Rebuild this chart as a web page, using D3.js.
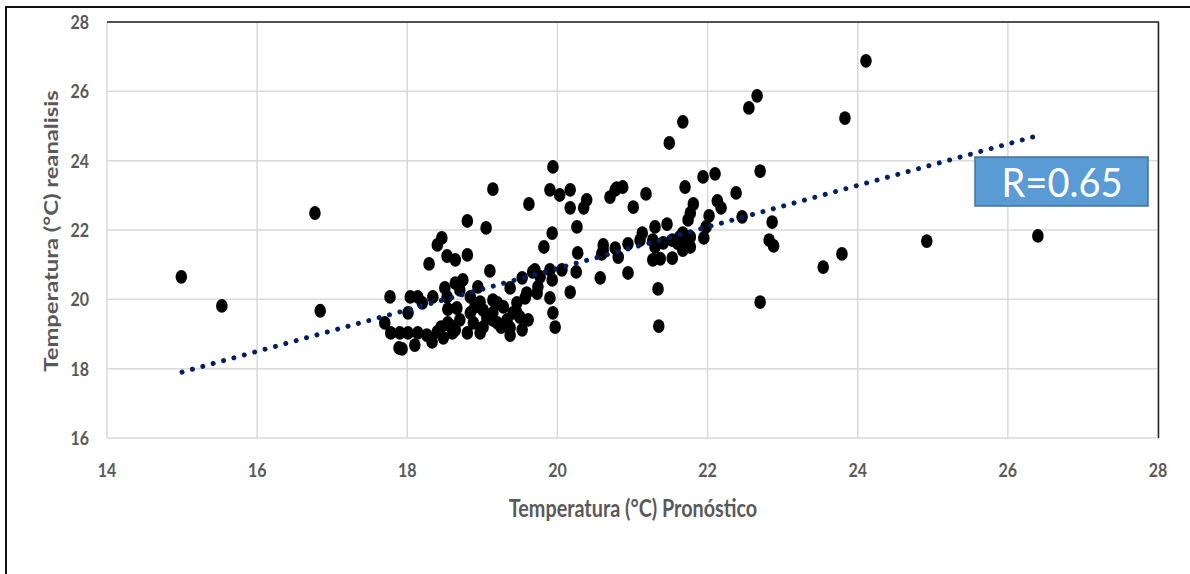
<!DOCTYPE html>
<html lang="en">
<head>
  <meta charset="UTF-8">
  <script src="https://d3js.org/d3.v7.min.js"></script>
  <title>Temperatura pronóstico vs reanalisis</title>
  <style>
  body {
    margin:0;
    background-color:#fff;
    font-family: Lato, "Open Sans", sans-serif;
  }
  .grid line {
    stroke:#d9d9d9;
    stroke-width:1.5px;
  }
  .tick-label {
    fill:#595959;
    font-weight:bold;
    font-size:16px;
  }
  .axis-title {
    fill:#595959;
    font-weight:bold;
    font-size:19.8px;
  }
  </style>
</head>
<body>
  <svg id="chart" width="1190" height="574"></svg>

  <script>
  // tick values
  const xTicks = [14, 16, 18, 20, 22, 24, 26, 28];
  const yTicks = [16, 18, 20, 22, 24, 26, 28];

  // pronostico (x) / reanalisis (y)
  const xVals = [
    14.99, 15.53, 16.77, 16.84,
    17.70, 17.77, 17.78, 17.90, 18.01, 17.89, 17.93, 18.01, 18.04, 18.14,
    18.20, 18.10, 18.14, 18.26, 18.34, 18.33, 18.40, 18.48, 18.29, 18.40,
    18.46, 18.53, 18.64, 18.80, 18.80, 18.50, 18.53, 18.64, 18.74, 18.70,
    18.54, 18.54, 18.60, 18.66, 18.70, 18.64, 18.84, 18.90, 18.88, 18.80,
    18.84, 18.94, 18.97, 19.01, 19.01, 18.97, 19.05, 19.10, 19.06,
    19.14, 19.14, 19.20, 19.14, 19.14, 19.20, 19.28, 19.33, 19.41, 19.46,
    19.50, 19.61, 19.53, 19.37, 19.37, 19.57, 19.59, 19.37, 19.53, 19.67,
    19.77, 19.74, 19.73, 19.62, 19.82, 19.93, 19.90, 19.94, 19.90, 19.93,
    19.90, 19.94, 19.97, 20.06, 20.03, 20.17, 20.17, 20.26, 20.25, 20.27,
    20.17, 19.70, 18.45, 18.57, 19.25, 19.45,
    20.35, 20.39, 20.61, 20.61, 20.77, 20.57, 20.70, 20.79, 20.87, 20.77,
    20.59, 20.81, 20.94, 20.94, 21.01, 21.18, 21.13, 21.10, 21.34, 21.35,
    21.27, 21.30, 21.30, 21.27, 21.37, 21.41, 21.46, 21.53, 21.53, 21.63,
    21.67, 21.73, 21.67, 21.77, 21.77, 21.70, 21.81, 21.77, 21.74, 21.49,
    21.67, 21.94, 22.10, 22.13, 22.18, 22.02, 21.98, 21.95, 21.70, 21.60,
    22.38, 22.46, 22.55, 22.66, 22.70, 22.86, 22.82, 22.88, 22.70, 23.54,
    23.79, 23.83, 24.11, 24.92, 26.40
  ];
  const yVals = [
    20.65, 19.81, 22.49, 19.67,
    19.32, 20.07, 19.03, 19.03, 19.03, 18.60, 18.57, 19.61, 20.07, 20.07,
    19.90, 18.68, 19.03, 18.97, 20.07, 18.77, 19.06, 18.89, 21.02, 21.57,
    21.77, 21.25, 21.14, 21.28, 22.26, 20.33, 20.07, 20.47, 20.56, 20.27,
    19.72, 19.32, 19.03, 19.75, 19.41, 19.12, 19.61, 19.78, 19.32, 19.03,
    20.07, 20.36, 19.92, 19.69, 19.20, 19.03, 22.06, 20.82, 19.46,
    23.18, 19.98, 19.90, 19.61, 19.41, 19.32, 19.78, 19.41, 19.61, 19.90,
    19.49, 19.41, 19.12, 19.18, 18.97, 20.04, 20.18, 20.33, 20.62, 20.79,
    20.65, 20.36, 20.18, 22.75, 21.51, 21.91, 23.16, 23.82, 20.85, 20.56,
    20.04, 19.61, 19.20, 20.85, 23.01, 23.16, 22.64, 22.09, 20.79, 21.34,
    20.21, 20.85, 19.20, 19.25, 19.20, 19.65,
    22.64, 22.87, 21.57, 21.42, 21.48, 20.62, 22.95, 23.21, 23.24, 23.16,
    21.31, 21.22, 21.60, 20.76, 22.66, 23.04, 21.91, 21.71, 20.30, 19.23,
    21.71, 22.09, 21.51, 21.14, 21.17, 21.63, 22.17, 21.71, 21.19, 21.80,
    21.91, 21.63, 21.42, 21.51, 21.80, 23.24, 22.75, 22.49, 22.29, 24.51,
    25.12, 23.53, 23.62, 22.84, 22.64, 22.41, 22.09, 21.77, 21.60, 21.62,
    23.07, 22.38, 25.52, 25.87, 23.70, 22.23, 21.71, 21.54, 19.92, 20.93,
    21.31, 25.23, 26.88, 21.68, 21.83
  ];

  // linear trend line end points
  const trendX = [15.0, 26.33];
  const trendY = [17.9, 24.68];

  const rLabel = "R=0.65";
  const xTitle = "Temperatura (°C) Pronóstico";
  const yTitle = "Temperatura (°C) reanalisis";

  const svg = d3.select("#chart");

  // outer chart border
  svg.append("rect")
    .attr("x", 6).attr("y", 7)
    .attr("width", 1300).attr("height", 700)
    .style("fill", "none")
    .style("stroke", "#111")
    .style("stroke-width", 2);

  const plotL = 107, plotR = 1158, plotT = 22, plotB = 438;
  const x = d3.scaleLinear().domain([14, 28]).range([plotL, plotR]);
  const y = d3.scaleLinear().domain([16, 28]).range([plotB, plotT]);

  // gridlines
  const grid = svg.append("g").attr("class", "grid");
  grid.selectAll(".gx").data(xTicks).enter()
    .append("line")
    .attr("x1", d => x(d)).attr("x2", d => x(d))
    .attr("y1", plotT).attr("y2", plotB);
  grid.selectAll(".gy").data(yTicks).enter()
    .append("line")
    .attr("x1", plotL).attr("x2", plotR)
    .attr("y1", d => y(d)).attr("y2", d => y(d));

  // plot area edges (top and right came out dark in the original)
  svg.append("line")
    .attr("x1", plotL).attr("x2", plotR + 1)
    .attr("y1", plotT).attr("y2", plotT)
    .style("stroke", "#222").style("stroke-width", 1.5);
  svg.append("line")
    .attr("x1", plotR + 0.5).attr("x2", plotR + 0.5)
    .attr("y1", plotT).attr("y2", plotB)
    .style("stroke", "#222").style("stroke-width", 1.5);

  // tick labels (original picture is stretched vertically, hence scale)
  svg.selectAll(".xl").data(xTicks).enter()
    .append("text")
    .attr("class", "tick-label")
    .attr("text-anchor", "middle")
    .attr("dominant-baseline", "central")
    .attr("transform", d => "translate(" + x(d) + ",470) scale(1,1.2)")
    .text(d => d);
  svg.selectAll(".yl").data(yTicks).enter()
    .append("text")
    .attr("class", "tick-label")
    .attr("text-anchor", "end")
    .attr("dominant-baseline", "central")
    .attr("transform", d => "translate(89," + y(d) + ") scale(1,1.2)")
    .text(d => d);

  // axis titles
  svg.append("text")
    .attr("class", "axis-title")
    .attr("text-anchor", "middle")
    .attr("dominant-baseline", "central")
    .attr("transform", "translate(633,508) scale(1,1.2)")
    .text(xTitle);
  svg.append("text")
    .attr("class", "axis-title")
    .attr("text-anchor", "middle")
    .attr("dominant-baseline", "central")
    .attr("transform", "translate(50,231) scale(1,1.2) rotate(-90)")
    .text(yTitle);

  // points
  const pts = xVals.map((v, i) => [v, yVals[i]]);
  svg.append("g").selectAll("ellipse").data(pts).enter()
    .append("ellipse")
    .attr("cx", d => x(d[0]))
    .attr("cy", d => y(d[1]))
    .attr("rx", 5.8)
    .attr("ry", 6.9)
    .style("fill", "#000");

  // dotted trend line, spacing tuned so a dot lands on both ends
  const line = d3.line().x(d => x(d[0])).y(d => y(d[1]));
  const trend = svg.append("path")
    .datum(trendX.map((v, i) => [v, trendY[i]]))
    .attr("d", line)
    .style("fill", "none")
    .style("stroke", "#002060")
    .style("stroke-width", 5)
    .style("stroke-linecap", "round");
  const len = trend.node().getTotalLength();
  const step = len / Math.round(len / 10.8);
  trend.style("stroke-dasharray", "0.01 " + (step - 0.01));

  // R box
  const box = svg.append("g").attr("transform", "translate(975,157)");
  box.append("rect")
    .attr("width", 173).attr("height", 49)
    .style("fill", "#5b9bd5")
    .style("stroke", "#41719c")
    .style("stroke-width", 1.5);
  box.append("text")
    .attr("text-anchor", "middle")
    .attr("dominant-baseline", "central")
    .attr("transform", "translate(87,25) scale(1,1.05)")
    .style("fill", "#fff")
    .style("font-size", "38px")
    .text(rLabel);
  </script>
</body>
</html>
